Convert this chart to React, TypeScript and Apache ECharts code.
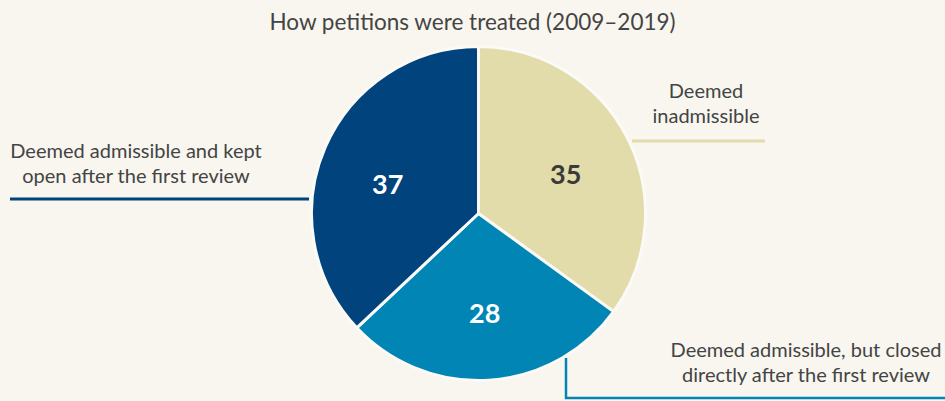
import React, { useEffect, useRef } from "react";
import * as echarts from "echarts";

const title = "How petitions were treated (2009–2019)";
const categories = [
  "Deemed inadmissible",
  "Deemed admissible, but closed directly after the first review",
  "Deemed admissible and kept open after the first review",
];
const values = [35, 28, 37];
const colors = ["#e1dcaa", "#0085b4", "#00437d"];
const valueLabelColors = ["#3a3a3a", "#ffffff", "#ffffff"];
const valueLabelOffsets = [[-1, 5], [0, 0], [0, 9]];
const calloutTexts = [
  "Deemed\ninadmissible",
  "Deemed admissible, but closed\ndirectly after the first review",
  "Deemed admissible and kept\nopen after the first review",
];

const FONT = "Lato, 'Open Sans', sans-serif";
const BG = "#f8f6ef";

export default function App() {
  const ref = useRef<HTMLDivElement>(null);
  useEffect(() => {
    document.body.style.margin = "0";
    const chart = echarts.init(ref.current!, null, { renderer: "svg" });
    const cx = 478.5;
    const cy = 213.5;
    const R = 167;
    const data = values.map((v, i) => ({
      name: categories[i],
      value: v,
      itemStyle: { color: colors[i] },
    }));
    const labelData = values.map((v, i) => ({
      name: categories[i],
      value: v,
      label: { color: valueLabelColors[i], offset: valueLabelOffsets[i] },
    }));
    const textStyle = (text: string, x: number, y: number) => ({
      type: "text",
      silent: true,
      style: {
        text,
        x,
        y,
        fill: "#444444",
        fontFamily: FONT,
        fontSize: 20,
        lineHeight: 25,
        textAlign: "center",
        textVerticalAlign: "top",
      },
    });
    chart.setOption({
      animation: false,
      backgroundColor: BG,
      title: {
        text: title,
        left: "center",
        top: 5,
        textStyle: { fontFamily: FONT, fontSize: 22.5, fontWeight: "normal", color: "#444444" },
      },
      series: [
        {
          type: "pie",
          center: [cx, cy],
          radius: [0, R],
          startAngle: 90,
          clockwise: true,
          silent: true,
          itemStyle: { borderColor: "#fbfaf6", borderWidth: 3 },
          label: { show: false },
          labelLine: { show: false },
          data,
        },
        {
          type: "pie",
          center: [cx, cy],
          radius: [0, 192],
          startAngle: 90,
          clockwise: true,
          silent: true,
          itemStyle: { color: "rgba(0,0,0,0)" },
          label: {
            show: true,
            position: "inside",
            formatter: "{c}",
            fontFamily: FONT,
            fontSize: 27,
            fontWeight: "bold",
          },
          labelLine: { show: false },
          data: labelData,
        },
      ],
      graphic: [
        {
          type: "line",
          silent: true,
          shape: { x1: 632, y1: 141, x2: 765, y2: 141 },
          style: { stroke: colors[0], lineWidth: 3 },
        },
        textStyle(calloutTexts[0], 706, 77.5),
        {
          type: "polyline",
          silent: true,
          shape: { points: [[566, 358], [566, 398], [945, 398]] },
          style: { stroke: colors[1], lineWidth: 2.5, fill: "none" },
        },
        textStyle(calloutTexts[1], 806, 336.5),
        {
          type: "line",
          silent: true,
          shape: { x1: 10, y1: 199, x2: 309, y2: 199 },
          style: { stroke: colors[2], lineWidth: 3 },
        },
        textStyle(calloutTexts[2], 136, 137.5),
      ],
    });
    return () => chart.dispose();
  }, []);
  return <div ref={ref} style={{ width: 945, height: 401 }} />;
}
